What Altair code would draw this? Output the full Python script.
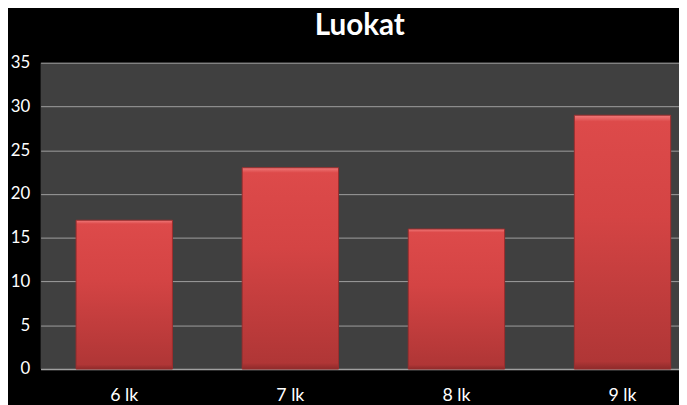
import altair as alt
import pandas as pd

categories = ["6 lk", "7 lk", "8 lk", "9 lk"]
values = [17, 23, 16, 29]
y_ticks = [0, 5, 10, 15, 20, 25, 30, 35]

df = pd.DataFrame({"luokka": categories, "maara": values})

FONT = "Lato"

bars = alt.Chart(df).mark_bar(
    color=alt.Gradient(
        gradient="linear",
        x1=0, y1=0, x2=0, y2=1,
        stops=[
            alt.GradientStop(offset=0, color="#f07a7a"),
            alt.GradientStop(offset=0.025, color="#dd4a4a"),
            alt.GradientStop(offset=0.4, color="#d44444"),
            alt.GradientStop(offset=0.97, color="#b03636"),
            alt.GradientStop(offset=1, color="#8e2a2a"),
        ],
    ),
    stroke="#9a2e2e",
    strokeWidth=1,
).encode(
    x=alt.X(
        "luokka:N",
        sort=categories,
        scale=alt.Scale(paddingInner=0.42, paddingOuter=0.132, align=0.81),
        axis=alt.Axis(
            title=None, labelAngle=0, ticks=False, domain=True,
            domainColor="#a0a0a0", domainWidth=1.5,
            labelColor="white", labelFont=FONT, labelFontSize=18,
            labelPadding=18, grid=False,
        ),
    ),
    y=alt.Y(
        "maara:Q",
        scale=alt.Scale(domain=[0, 35], nice=False),
        axis=alt.Axis(
            title=None, values=y_ticks, ticks=False, domain=False,
            grid=True, gridColor="#a0a0a0", gridWidth=1,
            labelColor="white", labelFont=FONT, labelFontSize=17,
            labelPadding=11,
        ),
    ),
)

chart = bars.properties(
    width=646,
    height=310,
    title=alt.TitleParams(
        "Luokat", font=FONT, fontSize=30, fontWeight="bold", color="white",
        anchor="middle", offset=13,
    ),
    autosize=alt.AutoSizeParams(type="none"),
    padding={"left": 33, "top": 53, "right": 0, "bottom": 34},
).configure(
    background="black",
).configure_view(
    fill="#404040", stroke=None,
)

chart.save("out.html", embed_options={"renderer": "svg", "actions": False})
